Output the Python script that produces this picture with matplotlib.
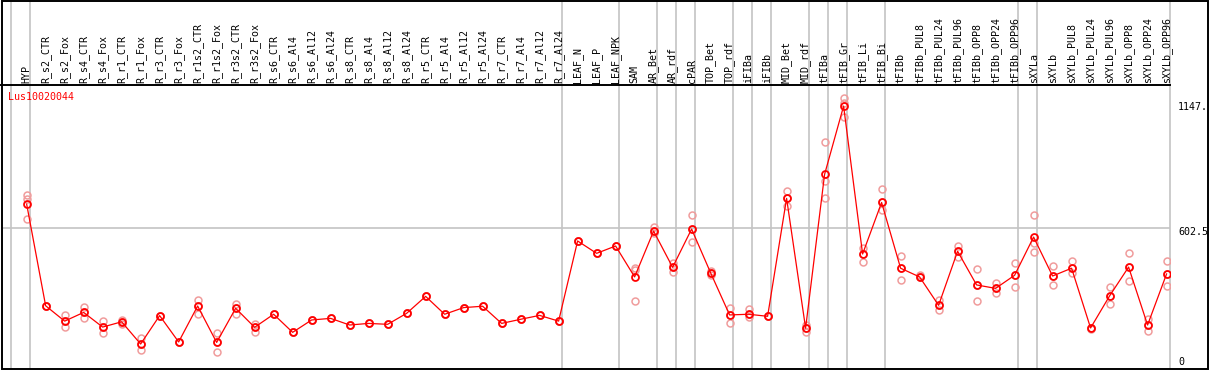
# -*- coding: utf-8 -*-
"""
Expression profile of Lus10020044 across tissues / treatments
(mean line + individual replicates), saved to out.png
"""

import numpy as np
import matplotlib
matplotlib.use("Agg")
import matplotlib.pyplot as plt
import matplotlib.transforms as mtrans
from matplotlib.patches import Rectangle

# ── data ────────────────────────────────────────────
GENE = "Lus10020044"

SAMPLES = [
    "HYP", "R_s2_CTR", "R_s2_Fox", "R_s4_CTR", "R_s4_Fox", "R_r1_CTR", "R_r1_Fox",
    "R_r3_CTR", "R_r3_Fox", "R_r1s2_CTR", "R_r1s2_Fox", "R_r3s2_CTR", "R_r3s2_Fox",
    "R_s6_CTR", "R_s6_Al4", "R_s6_Al12", "R_s6_Al24", "R_s8_CTR", "R_s8_Al4",
    "R_s8_Al12", "R_s8_Al24", "R_r5_CTR", "R_r5_Al4", "R_r5_Al12", "R_r5_Al24",
    "R_r7_CTR", "R_r7_Al4", "R_r7_Al12", "R_r7_Al24", "LEAF_N", "LEAF_P", "LEAF_NPK",
    "SAM", "AR_Bet", "AR_rdf", "cPAR", "TOP_Bet", "TOP_rdf", "iFIBa", "iFIBb",
    "MID_Bet", "MID_rdf", "tFIBa", "tFIB_Gr", "tFIB_Li", "tFIB_Bi", "tFIBb",
    "tFIBb_PUL8", "tFIBb_PUL24", "tFIBb_PUL96", "tFIBb_OPP8", "tFIBb_OPP24",
    "tFIBb_OPP96", "sXYLa", "sXYLb", "sXYLb_PUL8", "sXYLb_PUL24", "sXYLb_PUL96",
    "sXYLb_OPP8", "sXYLb_OPP24", "sXYLb_OPP96",
]

MEAN = [
    707, 263, 196, 234, 170, 193, 96, 220, 105, 262, 103, 252, 169,
    226, 147, 201, 208, 179, 186, 182, 230, 304, 226, 255, 261,
    186, 204, 221, 196, 546, 492, 524,
    389, 589, 431, 598, 407, 223, 226, 217,
    732, 165, 837, 1135, 489, 714, 427,
    389, 265, 501, 354, 339, 396,
    563, 393, 427, 166, 306, 432, 179, 402,
]

REP_A = [
    745, 263, 223, 259, 196, 199, 121, 220, 105, 288, 143, 271, 183,
    226, 147, 201, 208, 179, 186, 182, 230, 304, 226, 255, 261,
    186, 204, 221, 196, 546, 492, 524,
    427, 608, 451, 659, 417, 253, 247, 217,
    762, 179, 977, 1169, 514, 771, 480,
    397, 288, 525, 422, 364, 448,
    658, 437, 458, 160, 344, 493, 204, 457,
]
REP_B = [
    730, 263, 169, 208, 143, 183, 70, 220, 105, 227, 62, 227, 150,
    226, 147, 201, 208, 179, 186, 182, 230, 304, 226, 255, 261,
    186, 204, 221, 196, 546, 492, 524,
    418, 580, 412, 540, 396, 186, 213, 217,
    699, 147, 808, 1150, 453, 681, 374,
    389, 244, 477, 284, 320, 344,
    496, 354, 404, 166, 269, 370, 154, 348,
]
REP_C = [
    640, 263, 196, 234, 170, 193, 96, 220, 105, 262, 103, 252, 169,
    226, 147, 201, 208, 179, 186, 182, 230, 304, 226, 255, 261,
    186, 204, 221, 196, 546, 492, 524,
    284, 589, 431, 598, 407, 223, 226, 217,
    732, 165, 732, 1086, 489, 714, 427,
    389, 265, 501, 354, 339, 396,
    536, 393, 427, 166, 306, 432, 179, 402,
]

# group separators: vertical line after these sample indices
GROUP_ENDS = [-1, 0, 28, 31, 33, 34, 35, 37, 38, 39, 41, 42, 43, 45, 52, 53, 60]

RIGHT_TICKS = [1147, 602.5, 0]
RIGHT_TICK_LABELS = ["1147.", "602.5", "0"]

# ── style ───────────────────────────────────────────
W, H, DPI = 1209, 370, 100
RED = "#ff0000"
PINK = "#f09c9c"
GRID = "#c4c4c4"
FONT = "DejaVu Sans Mono"
FS = 7.2

plt.rcParams["font.family"] = [FONT, "DejaVu Sans"]


def main():
    fig = plt.figure(figsize=(W / DPI, H / DPI), dpi=DPI)

    # plot area in pixels: x 1..1170, y 85..368 (from top)
    left, right, top, bottom = 1, 1170, 85, 368
    ax = fig.add_axes([left / W, (H - bottom) / H,
                       (right - left) / W, (bottom - top) / H])
    x = np.arange(len(SAMPLES))
    ax.set_xlim(-1.35, 60.18)
    ax.set_ylim(-8.7, 1227)
    ax.set_xticks([]); ax.set_yticks([])
    for s in ("right", "left", "bottom"):
        ax.spines[s].set_visible(False)
    ax.spines["top"].set_linewidth(1.4)

    # vertical group separators run through the header as well
    for g in GROUP_ENDS:
        ax.axvline(g + 0.2, ymin=0, ymax=bottom / (bottom - top),
                   color=GRID, lw=1.2, clip_on=False, zorder=0)
    ax.axhline(602.5, color=GRID, lw=1.2, zorder=0)

    # replicates then mean
    for rep in (REP_A, REP_B, REP_C):
        ax.plot(x, rep, ls="none", marker="o", ms=5.0, mfc="none",
                mec=PINK, mew=1.1, zorder=2)
    ax.plot(x, MEAN, color=RED, lw=0.9, marker="o", ms=5.0, mfc="none",
            mec=RED, mew=1.3, zorder=3)

    # sample labels in header
    tr = mtrans.blended_transform_factory(ax.transData, ax.transAxes)
    for i, lab in enumerate(SAMPLES):
        ax.text(i, 1 + 2 / (bottom - top), lab, transform=tr, rotation=90,
                ha="center", va="bottom", fontsize=FS)

    # right-hand value labels (the lowest one sits just above the frame)
    base = mtrans.blended_transform_factory(ax.transAxes, ax.transData)
    for v, lab in zip(RIGHT_TICKS, RIGHT_TICK_LABELS):
        dy = 4 if v == 0 else -4
        tr_r = mtrans.offset_copy(base, fig=fig, x=0, y=dy, units="dots")
        ax.text(1 + 8 / (right - left), v, lab, transform=tr_r,
                ha="left", va="center", fontsize=FS)

    fig.text(8 / W, 1 - 97 / H, GENE, color=RED, fontsize=FS,
             ha="left", va="center")

    # outer frame
    fig.patches.append(Rectangle((1.5 / W, (H - 368.5) / H),
                                 (1208 - 1.5) / W, (368.5 - 0.5) / H,
                                 transform=fig.transFigure, fill=False,
                                 ec="black", lw=1.4, zorder=10))

    fig.savefig("out.png", dpi=DPI)
    plt.close(fig)


if __name__ == "__main__":
    main()
